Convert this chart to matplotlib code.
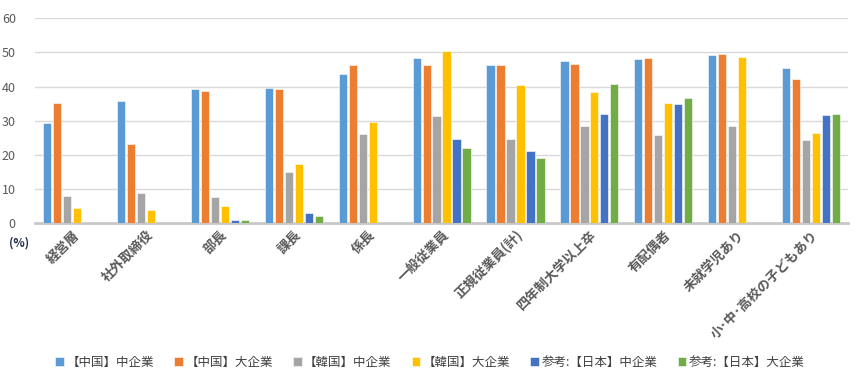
import numpy as np
import matplotlib.pyplot as plt

plt.rcParams['font.family'] = ['Noto Sans CJK JP', 'DejaVu Sans']

categories = ['経営層', '社外取締役', '部長', '課長', '係長', '一般従業員',
              '正規従業員(計)', '四年制大学以上卒', '有配偶者', '未就学児あり',
              '小･中･高校の子どもあり']
series_names = ['【中国】中企業', '【中国】大企業', '【韓国】中企業',
                '【韓国】大企業', '参考:【日本】中企業', '参考:【日本】大企業']
nan = np.nan
china_mid = [29.4, 35.7, 39.2, 39.5, 43.7, 48.3, 46.2, 47.6, 48.1, 49.1, 45.4]
china_large = [35.2, 23.2, 38.7, 39.2, 46.2, 46.4, 46.2, 46.6, 48.4, 49.5, 42.2]
korea_mid = [7.9, 8.9, 7.7, 15.0, 26.0, 31.3, 24.7, 28.3, 25.9, 28.4, 24.3]
korea_large = [4.5, 3.7, 4.9, 17.4, 29.6, 50.4, 40.3, 38.3, 35.3, 48.5, 26.5]
japan_mid = [nan, nan, 1.0, 3.0, nan, 24.5, 21.2, 31.9, 35.0, nan, 31.8]
japan_large = [nan, nan, 0.8, 2.0, nan, 22.1, 19.2, 40.7, 36.5, nan, 32.0]
yticks = [0, 10, 20, 30, 40, 50, 60]

series = [china_mid, china_large, korea_mid, korea_large, japan_mid, japan_large]
colors = ['#5B9BD5', '#ED7D31', '#A5A5A5', '#FFC000', '#4472C4', '#70AD47']

fig = plt.figure(figsize=(8.6, 3.8), dpi=100)
ax = fig.add_axes([0.041, 0.413, 0.945, 0.539])

x = np.arange(len(categories))
step = 0.135
width = 0.112
for i, (vals, name, c) in enumerate(zip(series, series_names, colors)):
    ax.bar(x + (i - 2.5) * step, vals, width, color=c, label=name,
           edgecolor='white', linewidth=0.4, zorder=3)

ax.set_xlim(-0.5, len(categories) - 0.5)
ax.set_ylim(0, 60)
ax.set_yticks(yticks)
ax.yaxis.grid(True, color='#D9D9D9', linewidth=1, zorder=0)
ax.tick_params(length=0, labelsize=9, colors='#595959')
ax.tick_params(axis='y', pad=14)
for s in ['top', 'right', 'left']:
    ax.spines[s].set_visible(False)
ax.spines['bottom'].set_color('#C8C8C8')
ax.spines['bottom'].set_linewidth(2)

ax.set_xticks(x)
ax.set_xticklabels(categories, rotation=45, ha='right', rotation_mode='anchor',
                   fontsize=9.5, color='#595959', fontweight='bold')

fig.text(0.022, 0.36, '(%)', fontsize=8.5, fontweight='bold', color='#1F2D4E',
         ha='center', va='center')

fig.legend(loc='lower center', bbox_to_anchor=(0.5, 0.0), ncol=6, frameon=False,
           handlelength=0.7, handleheight=0.7, handletextpad=0.2,
           columnspacing=1.6, labelcolor='#404040', prop={'size': 9})

fig.savefig('out.png', dpi=100)
